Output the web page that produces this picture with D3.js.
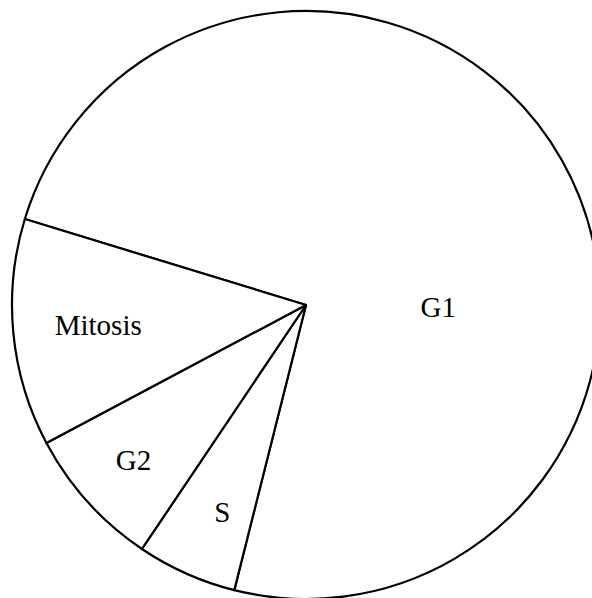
<!DOCTYPE html>
<html>
<head>
<meta charset="utf-8">
<script src="https://cdn.jsdelivr.net/npm/d3@7"></script>
<style>
  html, body { margin: 0; padding: 0; background: #fff; overflow: hidden; }
</style>
</head>
<body>
<script>
// cell cycle phases, share of the cycle (%)
const phases = ["G1", "S", "G2", "Mitosis"];
const shares = [74.2, 5.5, 7.8, 12.5];

// label placement (radius fraction, optional angle override in degrees)
const labelStyle = {
  "G1": {k: 0.45, angle: 91},
  "S": {k: 0.76, angle: 202},
  "G2": {k: 0.79},
  "Mitosis": {k: 0.71}
};

const width = 592, height = 598;
const cx = 306, cy = 305, radius = 294;
const startDeg = -73;

const svg = d3.select("body")
  .append("svg")
    .attr("width", width)
    .attr("height", height);

const g = svg.append("g")
    .attr("transform", "translate(" + cx + "," + cy + ")");

const data = phases.map((p, i) => ({phase: p, value: shares[i]}));

const pie = d3.pie()
    .value(d => d.value)
    .sort(null)
    .startAngle(startDeg * Math.PI / 180)
    .endAngle((startDeg + 360) * Math.PI / 180);

const arc = d3.arc()
    .innerRadius(0)
    .outerRadius(radius);

const arcs = pie(data);

g.selectAll("path")
  .data(arcs)
  .enter()
  .append("path")
    .attr("d", arc)
    .style("fill", "#fff")
    .style("stroke", "#000")
    .style("stroke-width", 2.2)
    .style("stroke-linejoin", "round");

g.selectAll("text")
  .data(arcs)
  .enter()
  .append("text")
    .attr("transform", d => {
      const s = labelStyle[d.data.phase];
      const a = s.angle !== undefined ? s.angle * Math.PI / 180 : (d.startAngle + d.endAngle) / 2;
      const r = radius * s.k;
      return "translate(" + (Math.sin(a) * r) + "," + (-Math.cos(a) * r) + ")";
    })
    .attr("text-anchor", "middle")
    .attr("dy", "0.33em")
    .style("font-family", "'Liberation Serif', 'Times New Roman', serif")
    .style("font-size", "29px")
    .style("fill", "#000")
    .text(d => d.data.phase);
</script>
</body>
</html>
